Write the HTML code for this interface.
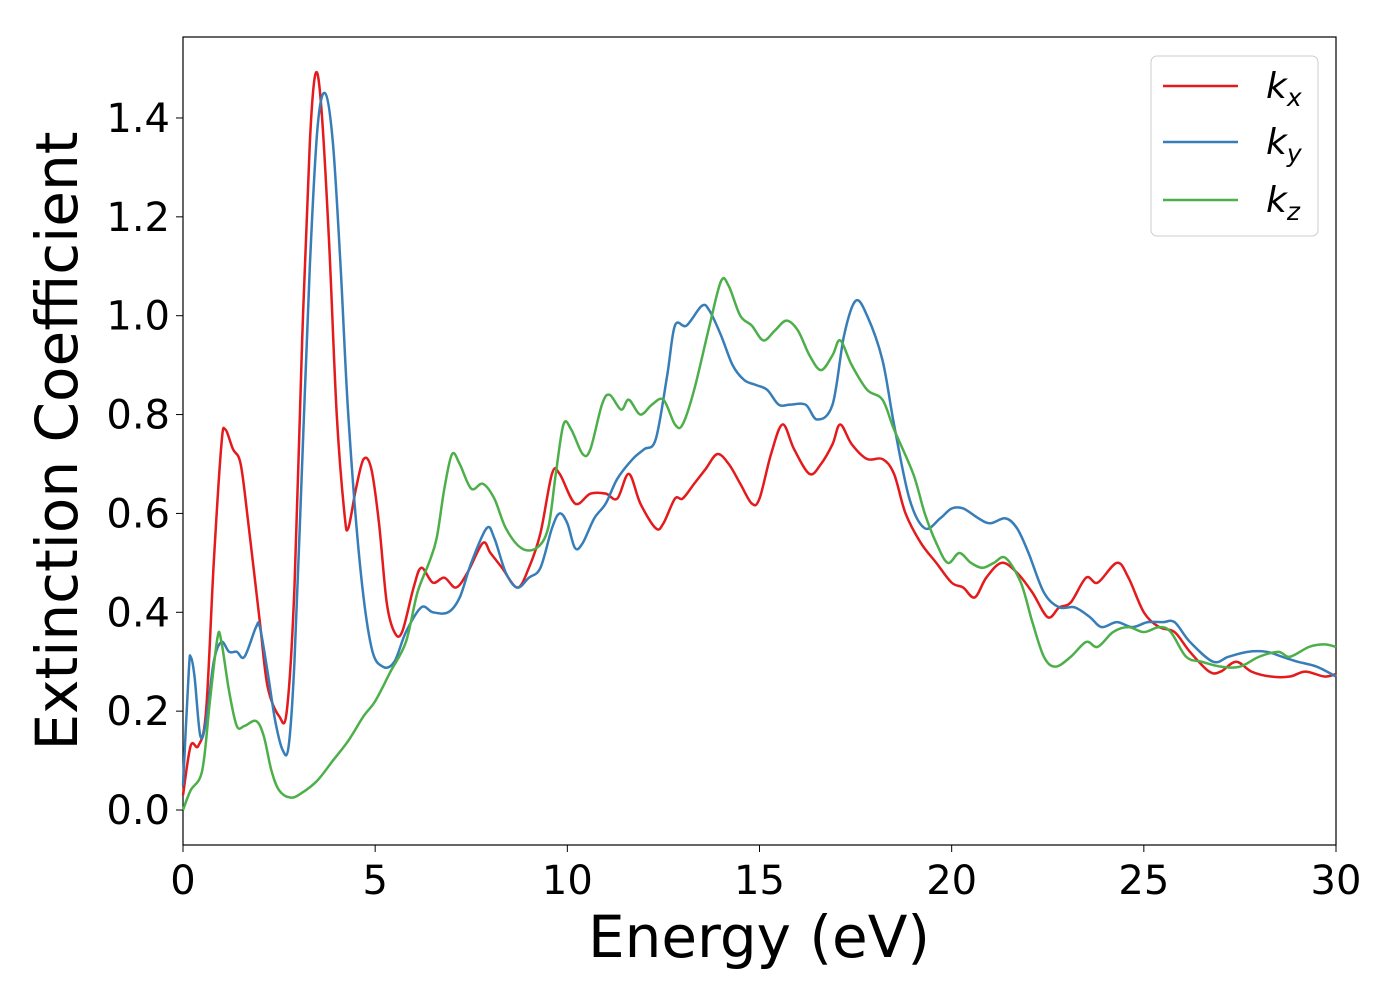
<!DOCTYPE html>
<html><head><meta charset="utf-8"><style>
html,body{margin:0;padding:0;background:#fff;}
svg{display:block;font-family:"DejaVu Sans","Liberation Sans",sans-serif;}
</style></head><body>
<svg id="chart" width="1400" height="1000">
<rect x="183" y="37" width="1153" height="808" fill="#fff" stroke="#000" stroke-width="1.2"/>
<g id="xticks"></g>
<g id="yticks"></g>
<g id="series"></g>
<text x="759" y="957" font-size="58" text-anchor="middle">Energy (eV)</text>
<text transform="translate(77,441) rotate(-90)" font-size="58" text-anchor="middle">Extinction Coefficient</text>
<g>
<rect x="1151" y="56" width="167" height="180" rx="6" fill="#fff" stroke="#ccc"/>
<line x1="1163" y1="86" x2="1238" y2="86" stroke="#e41a1c" stroke-width="2.5"/>
<text x="1266" y="98" font-size="36" font-style="italic">k<tspan font-size="25" dy="8">x</tspan></text>
<line x1="1163" y1="142" x2="1238" y2="142" stroke="#377eb8" stroke-width="2.5"/>
<text x="1266" y="154" font-size="36" font-style="italic">k<tspan font-size="25" dy="8">y</tspan></text>
<line x1="1163" y1="200" x2="1238" y2="200" stroke="#4daf4a" stroke-width="2.5"/>
<text x="1266" y="212" font-size="36" font-style="italic">k<tspan font-size="25" dy="8">z</tspan></text>
</g>
</svg>
<script>
const xTicks=[0,5,10,15,20,25,30];
const yTicks=[0.0,0.2,0.4,0.6,0.8,1.0,1.2,1.4];
const kxE=[0,0.2,0.4,0.6,0.8,1.0,1.1,1.3,1.5,1.7,2.0,2.2,2.5,2.7,2.9,3.1,3.3,3.45,3.6,3.8,4.0,4.2,4.3,4.5,4.7,4.9,5.1,5.3,5.5,5.7,6.0,6.2,6.5,6.8,7.1,7.4,7.8,8.0,8.3,8.7,9.0,9.3,9.6,9.8,10.2,10.6,11.0,11.3,11.6,11.9,12.3,12.5,12.8,13.0,13.3,13.6,13.9,14.2,14.5,14.8,15.0,15.3,15.6,15.9,16.3,16.6,16.9,17.1,17.4,17.8,18.2,18.5,18.8,19.2,19.6,20.0,20.3,20.6,20.9,21.3,21.7,22.1,22.5,22.8,23.1,23.5,23.8,24.3,24.6,25.0,25.4,25.8,26.2,26.7,27.0,27.4,27.8,28.3,28.8,29.2,29.7,30];
const kxV=[0.03,0.13,0.13,0.2,0.5,0.74,0.77,0.73,0.7,0.58,0.38,0.25,0.19,0.2,0.45,0.95,1.35,1.49,1.42,1.15,0.8,0.6,0.57,0.65,0.71,0.69,0.58,0.42,0.36,0.36,0.45,0.49,0.46,0.47,0.45,0.48,0.54,0.52,0.49,0.45,0.49,0.56,0.68,0.68,0.62,0.64,0.64,0.63,0.68,0.62,0.57,0.58,0.63,0.63,0.66,0.69,0.72,0.7,0.66,0.62,0.63,0.72,0.78,0.73,0.68,0.7,0.74,0.78,0.74,0.71,0.71,0.68,0.6,0.54,0.5,0.46,0.45,0.43,0.47,0.5,0.48,0.44,0.39,0.41,0.42,0.47,0.46,0.5,0.47,0.4,0.37,0.36,0.32,0.28,0.28,0.3,0.28,0.27,0.27,0.28,0.27,0.275];
const kyE=[0,0.15,0.2,0.3,0.45,0.6,0.8,1.0,1.2,1.4,1.6,1.9,2.0,2.2,2.4,2.6,2.75,2.9,3.1,3.3,3.5,3.7,3.9,4.1,4.3,4.6,4.9,5.2,5.5,5.8,6.2,6.5,6.9,7.2,7.5,7.9,8.1,8.4,8.7,9.0,9.3,9.6,9.8,10.0,10.2,10.4,10.7,11.0,11.3,11.7,12.0,12.3,12.6,12.8,13.1,13.5,13.7,14.0,14.3,14.6,14.9,15.2,15.5,15.8,16.2,16.5,16.9,17.2,17.5,17.8,18.2,18.5,18.9,19.3,19.7,20.0,20.3,20.7,21.0,21.4,21.7,22.0,22.4,22.8,23.2,23.6,23.9,24.3,24.7,25.1,25.5,25.8,26.2,26.8,27.2,27.7,28.2,28.6,29.0,29.5,30];
const kyV=[0.05,0.28,0.31,0.27,0.15,0.18,0.3,0.34,0.32,0.32,0.31,0.37,0.37,0.28,0.18,0.12,0.13,0.3,0.7,1.1,1.38,1.45,1.35,1.1,0.8,0.5,0.33,0.29,0.3,0.36,0.41,0.4,0.4,0.43,0.5,0.57,0.55,0.48,0.45,0.47,0.49,0.57,0.6,0.58,0.53,0.54,0.59,0.62,0.67,0.71,0.73,0.75,0.88,0.98,0.98,1.02,1.01,0.96,0.9,0.87,0.86,0.85,0.82,0.82,0.82,0.79,0.82,0.96,1.03,1.0,0.91,0.78,0.63,0.57,0.59,0.61,0.61,0.59,0.58,0.59,0.57,0.52,0.44,0.41,0.41,0.39,0.37,0.38,0.37,0.38,0.38,0.38,0.34,0.3,0.31,0.32,0.32,0.31,0.3,0.29,0.27];
const kzE=[0,0.2,0.5,0.7,0.9,1.0,1.2,1.4,1.6,1.9,2.1,2.3,2.5,2.8,3.1,3.5,3.9,4.3,4.7,5.0,5.4,5.8,6.1,6.4,6.6,6.8,7.0,7.2,7.5,7.8,8.1,8.4,8.8,9.2,9.5,9.7,9.9,10.1,10.4,10.6,10.9,11.1,11.4,11.6,11.9,12.2,12.5,12.8,13.0,13.3,13.7,14.0,14.2,14.5,14.8,15.1,15.4,15.7,16.0,16.3,16.6,16.9,17.1,17.4,17.8,18.2,18.5,19.0,19.3,19.6,19.9,20.2,20.5,20.8,21.1,21.4,21.8,22.1,22.4,22.7,23.1,23.5,23.8,24.2,24.6,25.0,25.4,25.7,26.1,26.5,27.0,27.5,28.0,28.5,28.8,29.3,29.7,30];
const kzV=[0.0,0.04,0.08,0.22,0.35,0.34,0.24,0.17,0.17,0.18,0.15,0.08,0.04,0.025,0.035,0.06,0.1,0.14,0.19,0.22,0.28,0.34,0.44,0.5,0.55,0.65,0.72,0.7,0.65,0.66,0.63,0.57,0.53,0.53,0.57,0.68,0.78,0.77,0.72,0.73,0.82,0.84,0.81,0.83,0.8,0.82,0.83,0.78,0.78,0.85,0.98,1.07,1.06,1.0,0.98,0.95,0.97,0.99,0.97,0.92,0.89,0.92,0.95,0.9,0.85,0.83,0.77,0.68,0.6,0.54,0.5,0.52,0.5,0.49,0.5,0.51,0.46,0.38,0.31,0.29,0.31,0.34,0.33,0.36,0.37,0.36,0.37,0.36,0.31,0.3,0.29,0.29,0.31,0.32,0.31,0.33,0.335,0.33];

const X0=183,X1=1336,Y0=810,YS=494.3;
function xs(e){return X0+(e/30)*(X1-X0);}
function ys(v){return Y0-v*YS;}
const NS='http://www.w3.org/2000/svg';
const xg=document.getElementById('xticks'),yg=document.getElementById('yticks'),sg=document.getElementById('series');
xTicks.forEach(t=>{
  const l=document.createElementNS(NS,'line');
  l.setAttribute('x1',xs(t));l.setAttribute('x2',xs(t));l.setAttribute('y1',845);l.setAttribute('y2',852);l.setAttribute('stroke','#000');
  
  
  xg.appendChild(l);
  const tx=document.createElementNS(NS,'text');
  tx.setAttribute('x',xs(t));tx.setAttribute('y',894);tx.setAttribute('font-size','40');tx.setAttribute('text-anchor','middle');
  tx.textContent=t;
  
  
  xg.appendChild(tx);
});
yTicks.forEach(t=>{
  const l=document.createElementNS(NS,'line');
  l.setAttribute('x1',176);l.setAttribute('x2',183);l.setAttribute('y1',ys(t));l.setAttribute('y2',ys(t));l.setAttribute('stroke','#000');
  
  
  yg.appendChild(l);
  const tx=document.createElementNS(NS,'text');
  tx.setAttribute('x',170);tx.setAttribute('y',ys(t)+14);tx.setAttribute('font-size','40');tx.setAttribute('text-anchor','end');
  tx.textContent=t.toFixed(1);
  
  
  yg.appendChild(tx);
});
function path(E,V){
  const p=E.map((e,i)=>[xs(e),ys(V[i])]);
  let d='M'+p[0][0]+','+p[0][1];
  for(let i=0;i<p.length-1;i++){
    const a=p[Math.max(0,i-1)],b=p[i],c=p[i+1],e=p[Math.min(p.length-1,i+2)];
    const c1x=b[0]+(c[0]-a[0])/6,c1y=b[1]+(c[1]-a[1])/6,c2x=c[0]-(e[0]-b[0])/6,c2y=c[1]-(e[1]-b[1])/6;
    d+=' C'+c1x+','+c1y+' '+c2x+','+c2y+' '+c[0]+','+c[1];
  }
  return d;
}
[[kxE,kxV,'#e41a1c','line-kx'],[kyE,kyV,'#377eb8','line-ky'],[kzE,kzV,'#4daf4a','line-kz']].forEach(s=>{
  const pa=document.createElementNS(NS,'path');
  pa.setAttribute('d',path(s[0],s[1]));pa.setAttribute('fill','none');pa.setAttribute('stroke',s[2]);pa.setAttribute('stroke-width','2.5');
  
  
  sg.appendChild(pa);
});
</script>
</body></html>
